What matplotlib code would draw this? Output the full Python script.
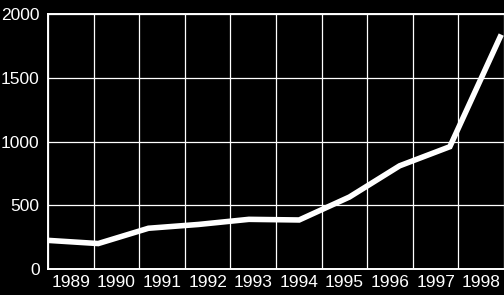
import numpy as np
import matplotlib.pyplot as plt

# Datos
anios = [1989, 1990, 1991, 1992, 1993, 1994, 1995, 1996, 1997, 1998]
valores = [225, 200, 320, 350, 390, 385, 565, 810, 960, 1820]
etiquetas = [str(a) for a in anios]
y_ticks = [0, 500, 1000, 1500, 2000]

plt.rcParams['font.family'] = ['Liberation Sans', 'DejaVu Sans']

fig = plt.figure(figsize=(5.04, 2.95), dpi=100, facecolor='black')
ax = fig.add_axes([0.0952, 0.088, 0.905, 0.864], facecolor='black')

ax.plot(anios, valores, color='white', linewidth=4.0, solid_joinstyle='miter', zorder=3)

# Columnas de la cuadricula (algo mas estrechas que el paso entre anios)
paso = 0.908
lineas_v = 1989 + paso * np.arange(0, 11)
centros = lineas_v[:-1] + paso / 2

ax.set_xlim(1989, 1998)
ax.set_ylim(0, 2000)
ax.set_xticks(lineas_v, minor=True)
ax.set_xticks(centros[:len(etiquetas)], etiquetas)
ax.set_yticks(y_ticks)
ax.grid(which='minor', axis='x', color='white', linewidth=0.9)
ax.grid(which='major', axis='y', color='white', linewidth=0.9)

for s in ['left', 'bottom', 'top']:
    ax.spines[s].set_color('white')
    ax.spines[s].set_linewidth(1.4)
ax.spines['right'].set_visible(False)

ax.tick_params(axis='both', which='both', length=0, colors='white', labelsize=12.5)
ax.tick_params(axis='x', pad=4)
ax.tick_params(axis='y', pad=6)

plt.savefig('out.png', dpi=100, facecolor='black')
